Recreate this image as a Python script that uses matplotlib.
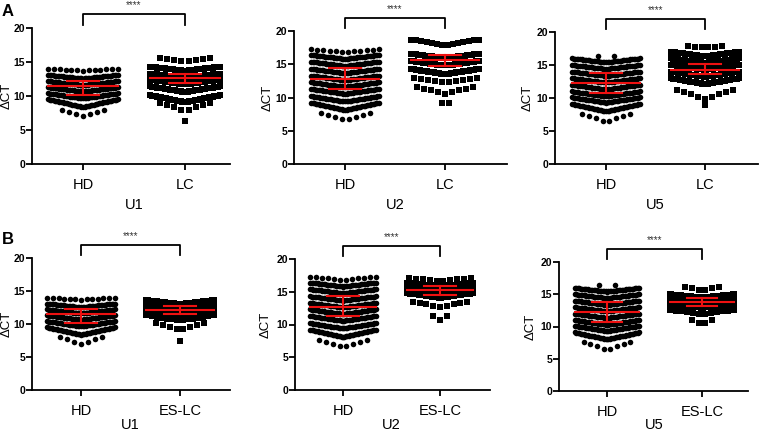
import numpy as np
import matplotlib
matplotlib.use("Agg")
import matplotlib.pyplot as plt

plt.rcParams['font.family'] = ['Liberation Sans', 'DejaVu Sans']

# ---------------- data ----------------
# each group: row levels (value at the row edge), number of points per row,
# and the spread of values within a row (lowest values sit in the middle)
U1_HD_levels = [14.0, 13.1, 12.2, 11.3, 10.4, 9.5, 8.0]
U1_HD_counts = [13, 45, 45, 45, 45, 45, 7]
U1_HD_spread = [0.3, 0.55, 0.6, 0.65, 0.75, 1.1, 1.0]

U2_HD_levels = [17.3, 16.4, 15.4, 14.3, 13.3, 12.3, 11.3, 10.2, 9.2, 7.6]
U2_HD_counts = [12, 45, 45, 45, 45, 45, 45, 45, 45, 8]
U2_HD_spread = [0.5, 0.6, 0.65, 0.65, 0.7, 0.7, 0.75, 0.8, 1.1, 1.0]

U5_HD_levels = [16.0, 15.0, 14.0, 13.0, 12.0, 11.0, 10.1, 9.1, 7.6]
U5_HD_counts = [45, 45, 45, 45, 45, 45, 45, 45, 8]
U5_HD_spread = [0.6, 0.6, 0.65, 0.65, 0.7, 0.75, 0.8, 1.1, 1.2]
U5_HD_top = [16.4, 16.4]

U1_LC_levels = [15.6, 14.3, 13.3, 12.4, 11.4, 10.1, 9.0, 6.3]
U1_LC_counts = [8, 40, 40, 40, 40, 40, 8, 1]
U1_LC_spread = [0.6, 0.6, 0.65, 0.7, 0.8, 1.0, 1.2, 0.0]

U2_LC_levels = [18.7, 16.6, 15.5, 14.3, 13.0, 11.6, 9.1]
U2_LC_counts = [14, 40, 40, 40, 10, 9, 2]
U2_LC_spread = [0.8, 0.7, 0.7, 0.8, 0.7, 1.0, 0.0]

U5_LC_levels = [17.9, 17.0, 16.0, 15.0, 14.0, 13.0, 11.2, 9.0]
U5_LC_counts = [6, 40, 40, 40, 40, 40, 9, 1]
U5_LC_spread = [0.3, 0.7, 0.7, 0.7, 0.8, 0.9, 1.3, 0.0]

U1_ES_levels = [13.6, 12.8, 12.0, 11.3, 10.2, 7.5]
U1_ES_counts = [40, 40, 40, 14, 8, 1]
U1_ES_spread = [0.6, 0.6, 0.7, 0.8, 1.2, 0.0]

U2_ES_levels = [17.1, 16.4, 15.6, 14.8, 13.5, 11.3]
U2_ES_counts = [10, 40, 40, 40, 9, 3]
U2_ES_spread = [0.5, 0.6, 0.6, 0.7, 0.8, 0.6]

U5_ES_levels = [16.2, 15.0, 14.3, 13.5, 12.6, 11.0]
U5_ES_counts = [6, 40, 40, 40, 12, 4]
U5_ES_spread = [0.6, 0.5, 0.5, 0.6, 0.7, 0.6]

# median and interquartile range per panel: [HD, other]
A_medians = [[11.5, 12.7], [12.8, 15.6], [12.2, 14.2]]
A_q1 = [[10.1, 11.9], [11.3, 14.7], [10.7, 13.6]]
A_q3 = [[12.2, 13.3], [14.5, 16.4], [13.8, 15.1]]
B_medians = [[11.5, 12.1], [12.7, 15.2], [12.2, 13.85]]
B_q1 = [[10.1, 11.5], [11.3, 14.5], [10.75, 13.2]]
B_q3 = [[12.2, 12.8], [14.4, 15.9], [13.75, 14.45]]

markers_names = ["U1", "U2", "U5"]
A_categories = ["HD", "LC"]
B_categories = ["HD", "ES-LC"]
y_ticks = [0, 5, 10, 15, 20]
signif = "****"

HD_groups = [(U1_HD_levels, U1_HD_counts, U1_HD_spread),
             (U2_HD_levels, U2_HD_counts, U2_HD_spread),
             (U5_HD_levels, U5_HD_counts, U5_HD_spread)]
LC_groups = [(U1_LC_levels, U1_LC_counts, U1_LC_spread),
             (U2_LC_levels, U2_LC_counts, U2_LC_spread),
             (U5_LC_levels, U5_LC_counts, U5_LC_spread)]
ES_groups = [(U1_ES_levels, U1_ES_counts, U1_ES_spread),
             (U2_ES_levels, U2_ES_counts, U2_ES_spread),
             (U5_ES_levels, U5_ES_counts, U5_ES_spread)]

# ---------------- layout ----------------
W, H = 761, 432
fig = plt.figure(figsize=(W / 100, H / 100), dpi=100)

# pixel boxes: (left spine x, right end x, y of 20, y of 0)
boxes_A = [(32, 230, 28, 164), (294, 507, 31, 164), (555, 758, 32, 164)]
boxes_B = [(32, 230, 258, 390), (295, 490, 259, 390), (559, 748, 262, 391)]
cat_px_A = [(83, 185), (345, 445), (606, 705)]
cat_px_B = [(81, 180), (343, 440), (607, 702)]
ylab_x_A = [7, 268, 528]
ylab_x_B = [7, 266, 531]
xlab_y_A = 205
xlab_y_B = 425

HALF = 0.34      # half width of a dot column (category units)
GAP = 0.07       # spacing of separated points


def swarm(ax, center, levels, counts, spread, marker, ms):
    xs, ys = [], []
    for lv, n, sp in zip(levels, counts, spread):
        hw = min(HALF, (n - 1) * GAP / 2)
        if n == 1:
            x = np.array([0.0])
        else:
            x = np.linspace(-hw, hw, n)
        if hw > 0:
            y = lv - sp * (1 - np.abs(x) / hw)
        else:
            y = np.full(n, lv - sp)
        xs.append(x + center)
        ys.append(y)
    ax.scatter(np.concatenate(xs), np.concatenate(ys), s=ms, marker=marker,
               color='black', linewidths=0, zorder=2, clip_on=False)


def draw_panel(box, catpx, cats, grp_hd, grp_other, med, q1, q3, xlab, ylab_x, xlab_y):
    left, right, ytop, ybot = box
    sp = catpx[1] - catpx[0]
    x0 = (left - catpx[0]) / sp
    x1 = (right - catpx[0]) / sp
    ax = fig.add_axes([left / W, 1 - ybot / H, (right - left) / W, (ybot - ytop) / H])
    ax.set_xlim(x0, x1)
    ax.set_ylim(0, 20)
    for s in ['top', 'right']:
        ax.spines[s].set_visible(False)
    for s in ['left', 'bottom']:
        ax.spines[s].set_linewidth(1.3)
    ax.set_yticks(y_ticks)
    ax.set_yticklabels([str(t) for t in y_ticks], fontweight='bold', fontsize=7.5)
    ax.set_xticks([0, 1])
    ax.set_xticklabels(cats, fontsize=10.5)
    ax.tick_params(axis='both', direction='out', length=4, width=1.3)
    ax.tick_params(axis='x', pad=6)
    ax.tick_params(axis='y', pad=1)
    fig.text(ylab_x / W, 1 - (ytop + ybot) / 2 / H, "ΔCT", rotation=90,
             ha='center', va='center', fontsize=9.5)
    fig.text((catpx[0] + catpx[1]) / 2 / W, 1 - xlab_y / H, xlab,
             ha='center', va='center', fontsize=10.5)

    swarm(ax, 0, *grp_hd, marker='o', ms=16)
    swarm(ax, 1, *grp_other, marker='s', ms=15)

    # median and IQR in red
    for i in range(2):
        ax.plot([i - HALF, i + HALF], [med[i], med[i]], color='#ee1111', lw=1.5, zorder=3)
        ax.plot([i - 0.16, i + 0.16], [q1[i], q1[i]], color='#ee1111', lw=1.5, zorder=3)
        ax.plot([i - 0.16, i + 0.16], [q3[i], q3[i]], color='#ee1111', lw=1.5, zorder=3)
        ax.plot([i, i], [q1[i], q3[i]], color='#ee1111', lw=1.5, zorder=3)

    # significance bracket
    ax.plot([0, 0, 1, 1], [20.5, 22.0, 22.0, 20.5], color='black', lw=1.3,
            clip_on=False, zorder=3)
    ax.text(0.5, 22.6, signif, ha='center', va='bottom', fontsize=7, color='#333333')
    return ax


axes_A, axes_B = [], []
for i in range(3):
    axes_A.append(draw_panel(boxes_A[i], cat_px_A[i], A_categories, HD_groups[i],
                             LC_groups[i], A_medians[i], A_q1[i], A_q3[i],
                             markers_names[i], ylab_x_A[i], xlab_y_A))
    axes_B.append(draw_panel(boxes_B[i], cat_px_B[i], B_categories, HD_groups[i],
                             ES_groups[i], B_medians[i], B_q1[i], B_q3[i],
                             markers_names[i], ylab_x_B[i], xlab_y_B))

# the two lone high points in HD U5 (panels A3 and B3)
for ax in (axes_A[2], axes_B[2]):
    ax.scatter([-0.08, 0.08], U5_HD_top, s=16, marker='o', color='black',
               linewidths=0, zorder=2)

fig.text(2 / W, 1 - 12 / H, "A", fontsize=12, fontweight='bold', va='center')
fig.text(2 / W, 1 - 240 / H, "B", fontsize=12, fontweight='bold', va='center')

fig.savefig("out.png", dpi=100)
